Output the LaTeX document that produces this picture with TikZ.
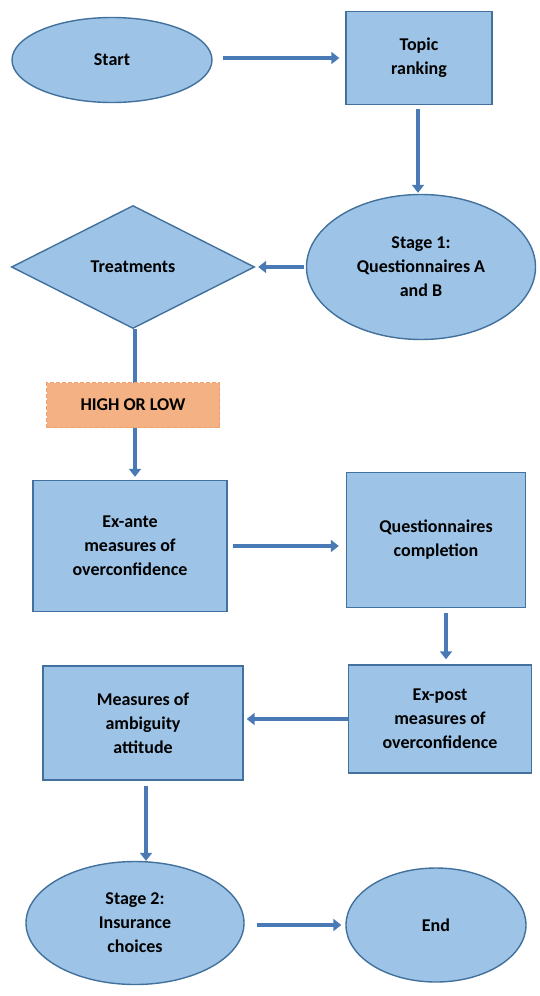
\documentclass[tikz,border=0pt]{standalone}
\usepackage{fontspec}
\setmainfont{Carlito}
\usepackage{tikz}
\usetikzlibrary{arrows.meta, shapes.geometric, positioning}
\definecolor{boxfill}{HTML}{9DC3E6}
\definecolor{boxedge}{HTML}{41719C}
\definecolor{arrowfill}{HTML}{4A7AB5}
\definecolor{tagfill}{HTML}{F4B183}
\definecolor{tagedge}{HTML}{EFA26E}
\tikzstyle{terminal}=[ellipse, draw=boxedge, fill=boxfill, line width=1.4pt, inner sep=0pt, align=center]
\tikzstyle{process}=[rectangle, draw=boxedge, fill=boxfill, line width=1.4pt, inner sep=0pt, align=center]
\tikzstyle{decision}=[diamond, draw=boxedge, fill=boxfill, line width=1.4pt, inner sep=0pt, align=center]
\tikzstyle{tag}=[rectangle, draw=tagedge, fill=tagfill, line width=1.2pt, dash pattern=on 4pt off 2pt, inner sep=0pt]
\tikzstyle{flow}=[draw=arrowfill, line width=4pt, -{Triangle[length=8pt, width=12pt]}]

\begin{document}
\begin{tikzpicture}[x=1pt, y=-1pt, font=\bfseries\fontsize{18}{24}\selectfont]
				\useasboundingbox (0,0) rectangle (540,996);
				\node[terminal] (start) at (112,60) [minimum width=200pt, minimum height=85pt] {Start};
				\node[process] (topic) at (419,58) [minimum width=146pt, minimum height=93pt] {Topic\\ranking};
				\node[terminal] (stage1) at (421,267) [minimum width=229pt, minimum height=145pt] {Stage 1:\\Questionnaires A\\and B};
				\node[decision] (treat) at (133,267) [minimum width=243pt, minimum height=123pt] {Treatments};
				\node[process] (exante) at (130,546) [minimum width=194pt, minimum height=131pt] {Ex-ante\\measures of\\overconfidence};
				\node[process] (quest) at (436,540) [minimum width=179pt, minimum height=135pt] {Questionnaires\\completion};
				\node[process] (expost) at (440,719) [minimum width=183pt, minimum height=108pt] {Ex-post\\measures of\\overconfidence};
				\node[process] (ambig) at (143,723) [minimum width=200pt, minimum height=114pt] {Measures of\\ambiguity\\attitude};
				\node[terminal] (stage2) at (135,923) [minimum width=218pt, minimum height=123pt] {Stage 2:\\Insurance\\choices};
				\node[terminal] (finish) at (436,925) [minimum width=180pt, minimum height=114pt] {End};

				\draw[flow, shorten <=10pt, shorten >=6pt] (start.east |- topic) -- (topic.west);
				\draw[flow, shorten <=4pt, shorten >=1pt] ([xshift=-1pt]topic.south) -- ([xshift=-1pt]topic.south |- stage1.north);
				\draw[flow, shorten <=2pt, shorten >=3pt] (stage1.west) -- (treat.east);
				\draw[flow, shorten >=3pt] ([xshift=2pt]treat.south) -- ([xshift=2pt]treat.south |- exante.north);
				\node[tag] (level) at (133,405) [minimum width=173pt, minimum height=45pt] {HIGH OR LOW};
				\draw[flow, shorten <=5pt, shorten >=7pt] (exante.east) -- (exante.east -| quest.west);
				\draw[flow, shorten <=5pt, shorten >=5pt] ([xshift=10pt]quest.south) -- ([xshift=10pt]quest.south |- expost.north);
				\draw[flow, shorten >=3pt] (expost.west |- 0,719) -- (ambig.east |- 0,719);
				\draw[flow, shorten <=5pt, shorten >=0pt] ([xshift=3pt]ambig.south) -- ([xshift=3pt]ambig.south |- stage2.north);
				\draw[flow, shorten <=12pt, shorten >=4pt] (stage2.east |- finish) -- (finish.west);
\end{tikzpicture}
\end{document}
